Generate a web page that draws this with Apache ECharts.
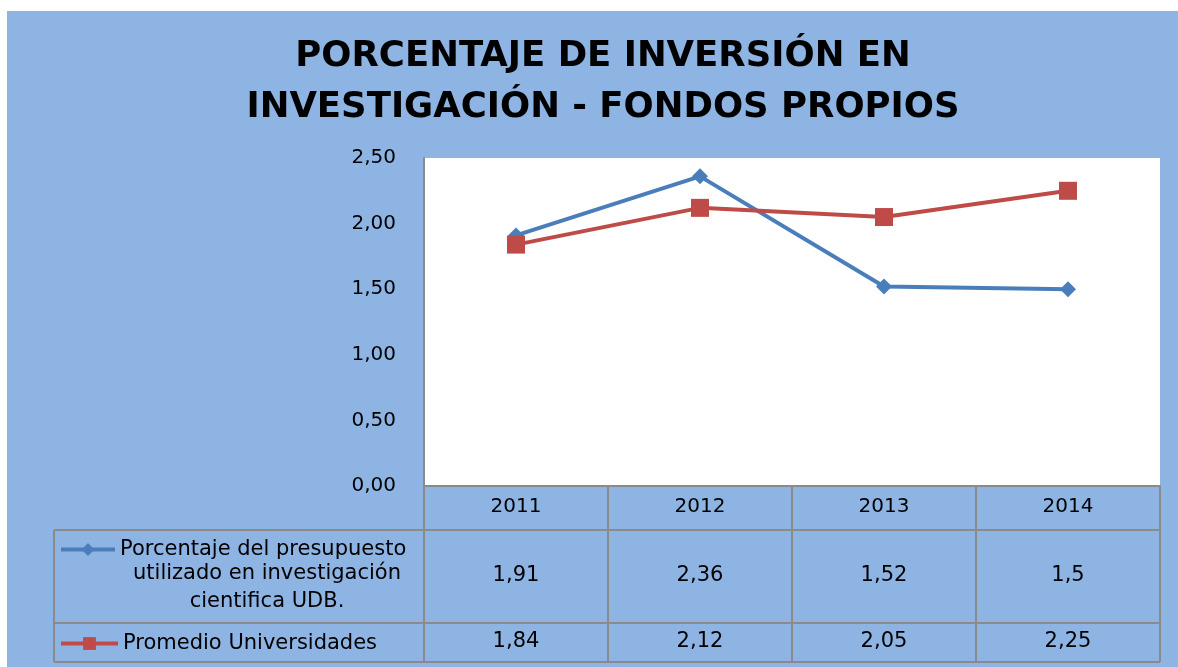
<!DOCTYPE html>
<html>
<head>
<meta charset="utf-8">
<script src="https://cdn.jsdelivr.net/npm/echarts@6/dist/echarts.min.js"></script>
<style>
  * { margin: 0; padding: 0; }
  body { background: #fff; }
  #chart { width: 1178px; height: 667px; }
</style>
</head>
<body>
<div id="chart"></div>
<script>
// datos
var years = ['2011', '2012', '2013', '2014'];
var udb = [1.91, 2.36, 1.52, 1.5];
var promedio = [1.84, 2.12, 2.05, 2.25];
var udbLabels = ['1,91', '2,36', '1,52', '1,5'];
var promLabels = ['1,84', '2,12', '2,05', '2,25'];
var nameUdb = 'Porcentaje del presupuesto utilizado en investigación cientifica UDB.';
var nameProm = 'Promedio Universidades';

var font = 'DejaVu Sans';
var gridCol = '#8a8a8a';
var blue = '#4a7ebb', red = '#be4b48';

var chart = echarts.init(document.getElementById('chart'));
chart.setOption({
  backgroundColor: '#fff',
  animation: false,
  title: {
    text: 'PORCENTAJE DE INVERSIÓN EN\nINVESTIGACIÓN - FONDOS PROPIOS',
    left: 598,
    top: 26,
    textAlign: 'center',
    textStyle: { fontFamily: font, fontWeight: 'bold', fontSize: 35.5, lineHeight: 51, color: '#000' }
  },
  legend: [
    {
      data: [nameUdb],
      left: 54, top: 534,
      itemWidth: 54, itemHeight: 16,
      lineStyle: { width: 4 },
      formatter: function () { return 'Porcentaje del presupuesto'; },
      textStyle: { fontFamily: font, fontSize: 21, color: '#000' }
    },
    {
      data: [nameProm],
      left: 54, top: 628,
      itemWidth: 57, itemHeight: 16,
      lineStyle: { width: 4 },
      textStyle: { fontFamily: font, fontSize: 21, color: '#000' }
    }
  ],
  grid: { left: 424, right: 18, top: 158, bottom: 181 },
  xAxis: [
    {
      type: 'category', data: years, boundaryGap: true,
      axisLine: { lineStyle: { color: gridCol, width: 2 } },
      axisTick: { show: true, length: 176, lineStyle: { color: gridCol, width: 2 } },
      axisLabel: { margin: 21, verticalAlign: 'middle', fontFamily: font, fontSize: 20, color: '#000' }
    },
    {
      type: 'category', data: years, position: 'bottom',
      axisLine: { show: false }, axisTick: { show: false },
      axisLabel: {
        margin: 90, verticalAlign: 'middle', fontFamily: font, fontSize: 21, color: '#000',
        formatter: function (v, i) { return udbLabels[i]; }
      }
    },
    {
      type: 'category', data: years, position: 'bottom',
      axisLine: { show: false }, axisTick: { show: false },
      axisLabel: {
        margin: 156, verticalAlign: 'middle', fontFamily: font, fontSize: 21, color: '#000',
        formatter: function (v, i) { return promLabels[i]; }
      }
    }
  ],
  yAxis: {
    type: 'value', min: 0, max: 2.5, interval: 0.5,
    axisLine: { show: true, lineStyle: { color: gridCol, width: 2 } },
    axisTick: { show: false },
    splitLine: { show: false },
    axisLabel: {
      margin: 28, fontFamily: font, fontSize: 20, color: '#000', padding: [6, 0, 0, 0],
      formatter: function (v) { return v.toFixed(2).replace('.', ','); }
    }
  },
  graphic: [
    { type: 'rect', z: -10, shape: { x: 7, y: 11, width: 1171, height: 656 }, style: { fill: '#8eb4e3' } },
    { type: 'rect', z: -5, shape: { x: 424, y: 158, width: 736, height: 328 }, style: { fill: '#fff' } },
    { type: 'line', shape: { x1: 54, y1: 530, x2: 1160, y2: 530 }, style: { stroke: gridCol, lineWidth: 2 } },
    { type: 'line', shape: { x1: 54, y1: 623, x2: 1160, y2: 623 }, style: { stroke: gridCol, lineWidth: 2 } },
    { type: 'line', shape: { x1: 54, y1: 662, x2: 1160, y2: 662 }, style: { stroke: gridCol, lineWidth: 2 } },
    { type: 'line', shape: { x1: 54, y1: 530, x2: 54, y2: 662 }, style: { stroke: gridCol, lineWidth: 2 } },
    {
      type: 'text', x: 267, y: 560,
      style: {
        text: 'utilizado en investigación\ncientifica UDB.',
        textAlign: 'center', font: '21px "' + font + '"', lineHeight: 28, fill: '#000'
      }
    }
  ],
  series: [
    {
      name: nameUdb, type: 'line', data: udb,
      symbol: 'diamond', symbolSize: 16,
      lineStyle: { color: blue, width: 4 },
      itemStyle: { color: blue }
    },
    {
      name: nameProm, type: 'line', data: promedio,
      symbol: 'rect', symbolSize: 18,
      lineStyle: { color: red, width: 4 },
      itemStyle: { color: red }
    }
  ]
});
</script>
</body>
</html>
